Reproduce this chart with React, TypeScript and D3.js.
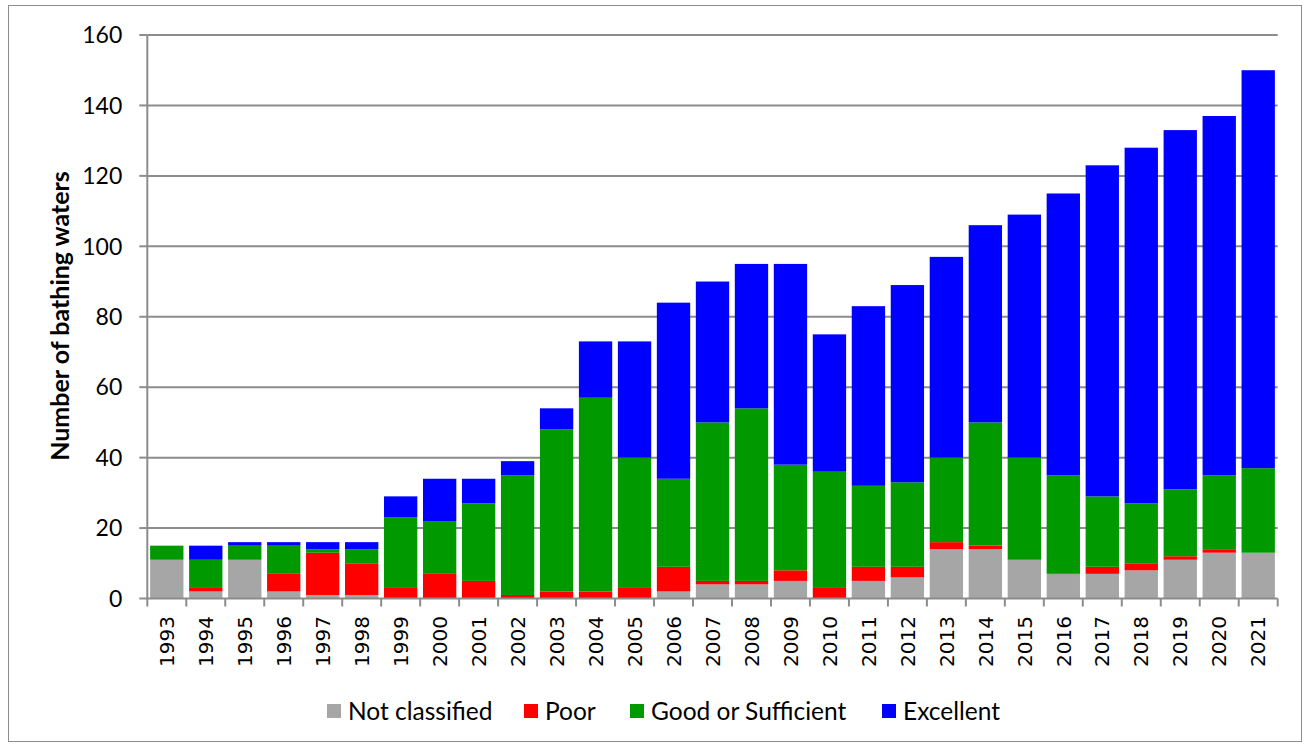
import React from "react";
import * as d3 from "d3";

const years = [
  "1993", "1994", "1995", "1996", "1997", "1998", "1999", "2000", "2001", "2002",
  "2003", "2004", "2005", "2006", "2007", "2008", "2009", "2010", "2011", "2012",
  "2013", "2014", "2015", "2016", "2017", "2018", "2019", "2020", "2021",
];
const notClassified = [11, 2, 11, 2, 1, 1, 0, 0, 0, 0, 0, 0, 0, 2, 4, 4, 5, 0, 5, 6, 14, 14, 11, 7, 7, 8, 11, 13, 13];
const poor = [0, 1, 0, 5, 12, 9, 3, 7, 5, 1, 2, 2, 3, 7, 1, 1, 3, 3, 4, 3, 2, 1, 0, 0, 2, 2, 1, 1, 0];
const goodOrSufficient = [4, 8, 4, 8, 1, 4, 20, 15, 22, 34, 46, 55, 37, 25, 45, 49, 30, 33, 23, 24, 24, 35, 29, 28, 20, 17, 19, 21, 24];
const excellent = [0, 4, 1, 1, 2, 2, 6, 12, 7, 4, 6, 16, 33, 50, 40, 41, 57, 39, 51, 56, 57, 56, 69, 80, 94, 101, 102, 102, 113];
const yTicks = [0, 20, 40, 60, 80, 100, 120, 140, 160];

const seriesNames = ["Not classified", "Poor", "Good or Sufficient", "Excellent"];
const colors = ["#a6a6a6", "#ff0000", "#009900", "#0000ff"];

const W = 1309;
const H = 747;
const left = 147.3;
const right = 1277.7;
const top = 35;
const bottom = 598.5;

export default function App() {
  const rows = years.map((y, i) => ({
    year: y,
    "Not classified": notClassified[i],
    Poor: poor[i],
    "Good or Sufficient": goodOrSufficient[i],
    Excellent: excellent[i],
  }));
  const stacked = d3.stack<any>().keys(seriesNames)(rows);

  const x = d3.scaleBand().domain(years).range([left, right]).paddingInner(0.145).paddingOuter(0.0725);
  const y = d3.scaleLinear().domain([0, 160]).range([bottom, top]);
  const step = x.step();
  const start = x.range()[0];
  const boundaries = d3.range(years.length + 1).map((i) => start + i * step);

  const legendX = [327, 524, 630, 882];
  const font = "Lato, 'Open Sans', sans-serif";

  return (
    <div style={{ position: "absolute", left: 0, top: 0 }}>
      <svg width={W} height={H} style={{ display: "block", background: "#fff" }}>
        <rect x={8.5} y={5.5} width={1293} height={736} fill="none" stroke="#8c8c8c" strokeWidth={1} />
        {/* gridlines */}
        {yTicks.slice(1).map((t) => (
          <line key={t} x1={left} x2={right} y1={y(t)} y2={y(t)} stroke="#8c8c8c" strokeWidth={2} />
        ))}
        {/* bars */}
        {stacked.map((s, si) => (
          <g key={s.key} fill={colors[si]}>
            {s.map((d, i) =>
              d[1] - d[0] > 0 ? (
                <rect key={i} x={x(years[i])} y={y(d[1])} width={x.bandwidth()} height={y(d[0]) - y(d[1])} />
              ) : null
            )}
          </g>
        ))}
        {/* y axis */}
        <line x1={left} x2={left} y1={top} y2={bottom} stroke="#8c8c8c" strokeWidth={2} />
        {yTicks.map((t) => (
          <g key={t}>
            <line x1={left - 8} x2={left} y1={y(t)} y2={y(t)} stroke="#8c8c8c" strokeWidth={2} />
            <text x={left - 25} y={y(t)} dy="0.36em" textAnchor="end" fontFamily={font} fontSize={23} fill="#000">
              {t}
            </text>
          </g>
        ))}
        {/* x axis */}
        <line x1={left} x2={right} y1={bottom} y2={bottom} stroke="#8c8c8c" strokeWidth={2} />
        {boundaries.map((b, i) => (
          <line key={i} x1={b} x2={b} y1={bottom} y2={bottom + 8} stroke="#8c8c8c" strokeWidth={2} />
        ))}
        {years.map((yr) => {
          const cx = (x(yr) as number) + x.bandwidth() / 2;
          return (
            <text
              key={yr}
              transform={`translate(${cx},616) rotate(-90)`}
              dy="0.36em"
              textAnchor="end"
              fontFamily="'DejaVu Sans', sans-serif"
              fontSize={20}
              fill="#000"
            >
              {yr}
            </text>
          );
        })}
        <text
          transform={`translate(60,316) rotate(-90)`}
          dy="0.36em"
          textAnchor="middle"
          fontFamily={font}
          fontWeight="bold"
          fontSize={25}
          fill="#000"
        >
          Number of bathing waters
        </text>
        {/* legend */}
        {seriesNames.map((n, i) => (
          <g key={n} transform={`translate(${legendX[i]},711)`}>
            <rect x={0} y={-7} width={14} height={14} fill={colors[i]} />
            <text x={21} y={0} dy="0.36em" fontFamily={font} fontSize={24.5} fill="#000">
              {n}
            </text>
          </g>
        ))}
      </svg>
    </div>
  );
}
